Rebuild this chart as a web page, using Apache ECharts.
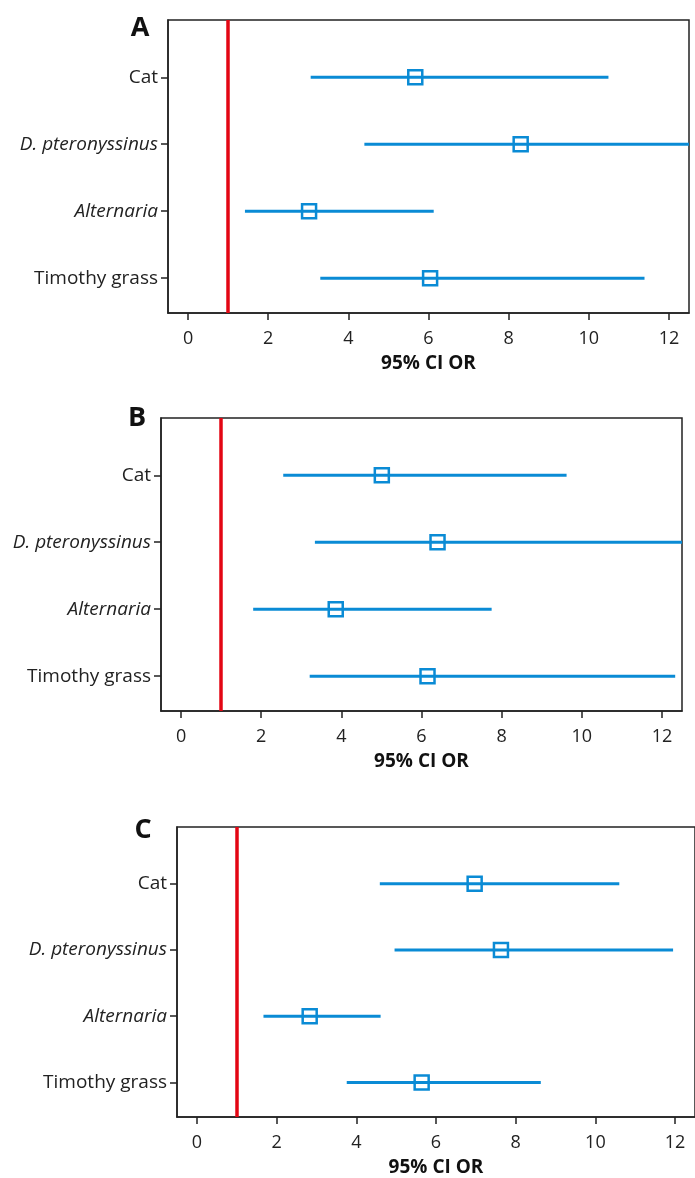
<!DOCTYPE html>
<html>
<head>
<meta charset="utf-8">
<script src="https://cdn.jsdelivr.net/npm/echarts@6/dist/echarts.min.js"></script>
<style>
  html, body { margin: 0; padding: 0; background: #fff; }
  #chart { width: 695px; height: 1178px; }
</style>
</head>
<body>
<div id="chart"></div>
<script>
// allergen rows, top to bottom
const categories = ['Cat', 'D. pteronyssinus', 'Alternaria', 'Timothy grass'];
const italicRows = [false, true, true, false];

// panel A
const orA = [5.67, 8.30, 3.02, 6.04];
const loA = [3.06, 4.40, 1.42, 3.30];
const hiA = [10.49, 12.5, 6.13, 11.39];
// panel B
const orB = [5.01, 6.40, 3.86, 6.15];
const loB = [2.55, 3.34, 1.80, 3.21];
const hiB = [9.62, 12.5, 7.75, 12.33];
// panel C
const orC = [6.97, 7.63, 2.83, 5.64];
const loC = [4.59, 4.96, 1.67, 3.76];
const hiC = [10.60, 11.95, 4.61, 8.63];

const xTicks = [0, 2, 4, 6, 8, 10, 12];
const refValue = 1;
const panelLetters = ['A', 'B', 'C'];

const BLUE = '#0a8bd5';
const RED = '#e30613';
const FONT = 'Open Sans';

const panels = [
  { or: orA, lo: loA, hi: hiA, grid: { left: 168, top: 20, width: 521, height: 293 }, letter: [140, 28] },
  { or: orB, lo: loB, hi: hiB, grid: { left: 161, top: 418, width: 521, height: 293 }, letter: [137, 418] },
  { or: orC, lo: loC, hi: hiC, grid: { left: 177, top: 827, width: 523, height: 293 }, letter: [143, 830] }
];

const chart = echarts.init(document.getElementById('chart'));

const grids = [], xAxes = [], yAxes = [], series = [], graphics = [];

panels.forEach((p, k) => {
  grids.push(Object.assign({ show: true, borderColor: '#222', borderWidth: 1.5, backgroundColor: '#fff' }, p.grid));

  xAxes.push({
    type: 'value', gridIndex: k, min: -0.5, max: 12.5,
    name: '95% CI OR', nameLocation: 'middle', nameGap: 41,
    nameTextStyle: { fontFamily: FONT, fontWeight: 'bold', fontSize: 19, color: '#111' },
    axisLine: { show: true, onZero: false, lineStyle: { color: '#222', width: 1.5 } },
    axisTick: { show: true, customValues: xTicks, length: 7, lineStyle: { color: '#222', width: 1.5 } },
    axisLabel: { customValues: xTicks, margin: 17, fontFamily: FONT, fontSize: 18, color: '#222' },
    splitLine: { show: false }
  });

  yAxes.push({
    type: 'value', gridIndex: k, inverse: true, min: 0.145, max: 4.52,
    axisLine: { show: true, onZero: false, lineStyle: { color: '#222', width: 1.5 } },
    axisTick: { show: true, customValues: [1, 2, 3, 4], length: 7, lineStyle: { color: '#222', width: 1.5 } },
    axisLabel: {
      customValues: [1, 2, 3, 4], margin: 10,
      fontFamily: FONT, fontSize: 19, color: '#222',
      formatter: function (v) {
        const i = Math.round(v) - 1;
        return italicRows[i] ? '{i|' + categories[i] + '}' : categories[i];
      },
      rich: { i: { fontStyle: 'italic', fontFamily: FONT, fontSize: 19, color: '#222' } }
    },
    splitLine: { show: false }
  });

  const ciData = categories.map((c, i) => [p.lo[i], p.hi[i], i + 1]);
  const orData = categories.map((c, i) => [p.or[i], i + 1]);

  series.push({
    type: 'custom', xAxisIndex: k, yAxisIndex: k,
    data: ciData,
    encode: { x: [0, 1], y: 2 },
    renderItem: function (params, api) {
      const a = api.coord([api.value(0), api.value(2)]);
      const b = api.coord([api.value(1), api.value(2)]);
      return {
        type: 'line',
        shape: { x1: a[0], y1: a[1], x2: b[0], y2: b[1] },
        style: { stroke: BLUE, lineWidth: 3 }
      };
    },
    z: 2
  });

  series.push({
    type: 'scatter', xAxisIndex: k, yAxisIndex: k,
    data: orData,
    symbol: 'rect', symbolSize: 14,
    itemStyle: { color: 'rgba(0,0,0,0)', borderColor: BLUE, borderWidth: 2.5, opacity: 1 },
    z: 3,
    markLine: {
      silent: true, symbol: 'none', animation: false,
      label: { show: false },
      lineStyle: { color: RED, width: 3.5, type: 'solid' },
      data: [{ xAxis: refValue }]
    }
  });

  graphics.push({
    type: 'text', x: p.letter[0], y: p.letter[1],
    style: { text: panelLetters[k], textAlign: 'center', textVerticalAlign: 'middle',
      font: 'bold 27px "' + FONT + '"', fill: '#111' }
  });
});

chart.setOption({
  animation: false,
  grid: grids,
  xAxis: xAxes,
  yAxis: yAxes,
  series: series,
  graphic: graphics
});
</script>
</body>
</html>
